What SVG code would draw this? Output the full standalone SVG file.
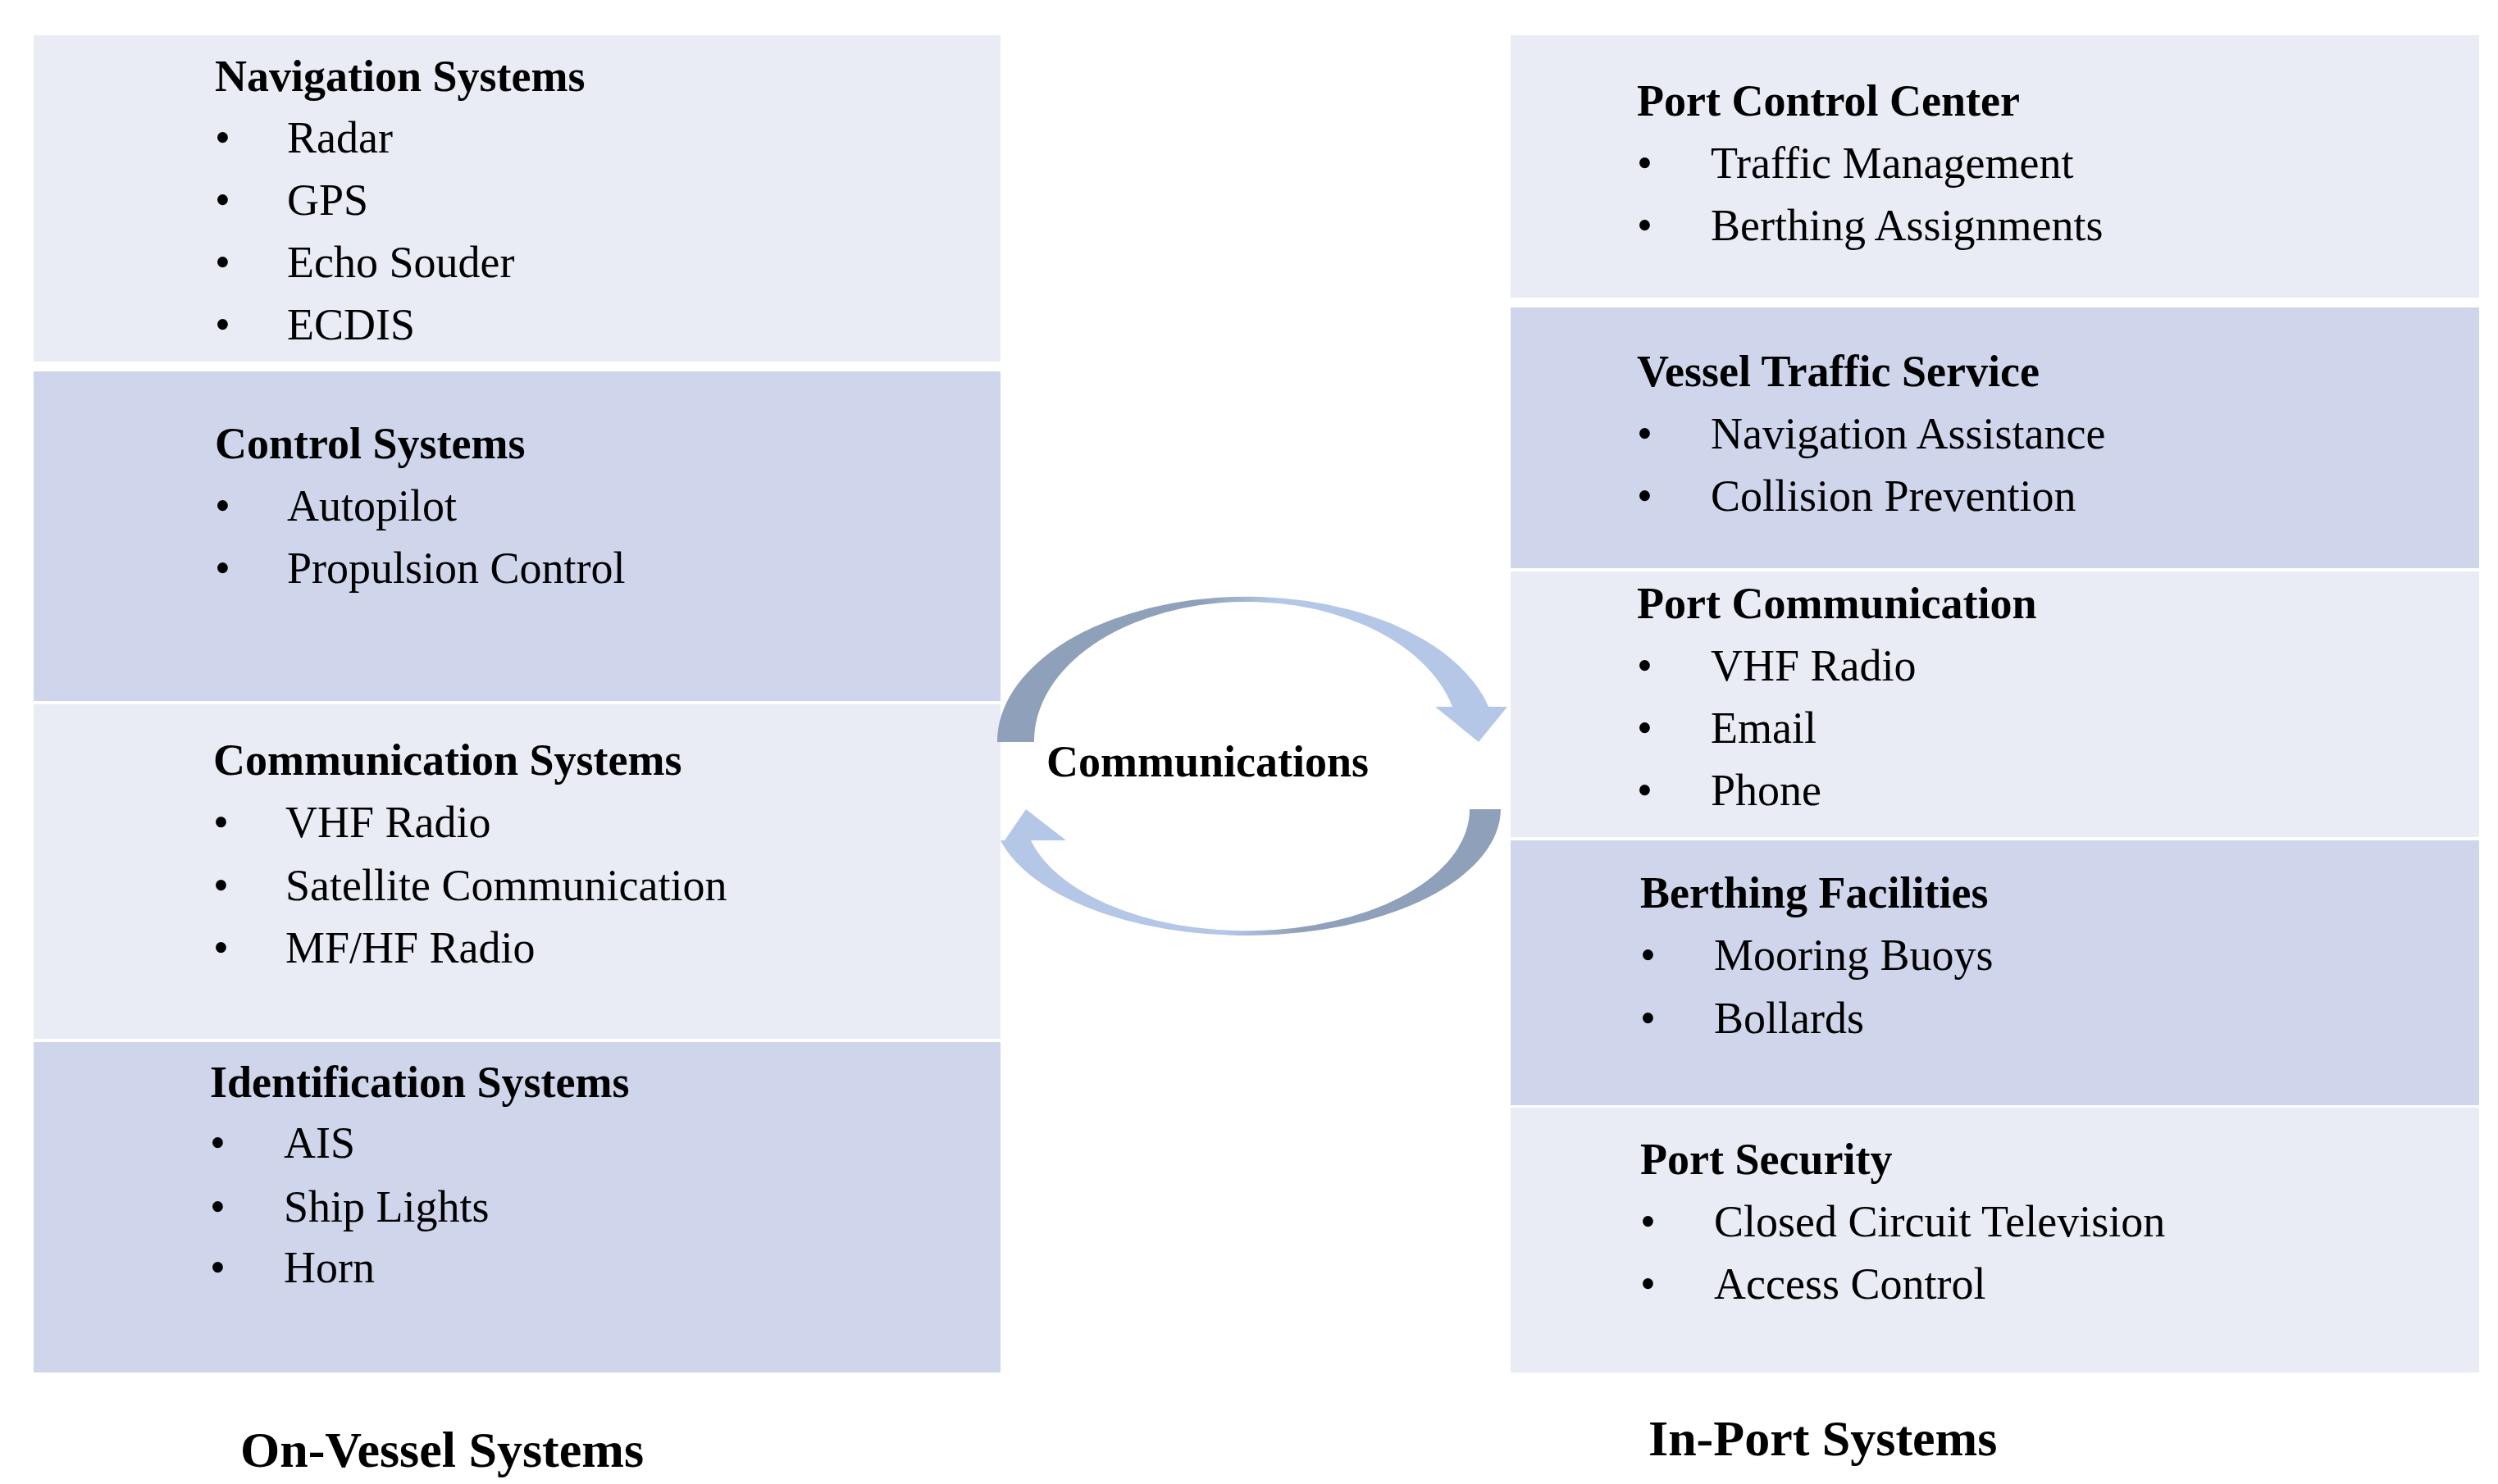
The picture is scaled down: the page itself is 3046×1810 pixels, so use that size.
<svg xmlns="http://www.w3.org/2000/svg" width="3046" height="1810" viewBox="0 0 3046 1810">
<style>
.l{fill:#E9EBF5}.d{fill:#CFD5EA}
text{font-family:"Liberation Serif","Times New Roman",serif;font-size:54px;fill:#000}
.h{font-weight:bold}.f{font-weight:bold;font-size:62px}
</style>
<defs>
<linearGradient id="gt" x1="1216" y1="0" x2="1838" y2="0" gradientUnits="userSpaceOnUse"><stop offset="0" stop-color="#8FA0BA"/><stop offset="0.4" stop-color="#8FA0BA"/><stop offset="0.55" stop-color="#B4C7E7"/><stop offset="1" stop-color="#B4C7E7"/></linearGradient>
<linearGradient id="gb" x1="1220" y1="0" x2="1830" y2="0" gradientUnits="userSpaceOnUse"><stop offset="0" stop-color="#B4C7E7"/><stop offset="0.45" stop-color="#B4C7E7"/><stop offset="0.6" stop-color="#8FA0BA"/><stop offset="1" stop-color="#8FA0BA"/></linearGradient>
</defs>
<rect width="3046" height="1810" fill="#fff"/>
<g id="nav"><rect class="l" x="41" y="43" width="1179" height="398"/>
<text class="h" x="262" y="111">Navigation Systems</text>
<text x="262" y="186">•</text><text x="350" y="186">Radar</text>
<text x="262" y="262">•</text><text x="350" y="262">GPS</text>
<text x="262" y="338">•</text><text x="350" y="338">Echo Souder</text>
<text x="262" y="414">•</text><text x="350" y="414">ECDIS</text></g>
<g id="ctrl"><rect class="d" x="41" y="453" width="1179" height="402"/>
<text class="h" x="262" y="559">Control Systems</text>
<text x="262" y="635">•</text><text x="350" y="635">Autopilot</text>
<text x="262" y="711">•</text><text x="350" y="711">Propulsion Control</text></g>
<g id="comm"><rect class="l" x="41" y="859" width="1179" height="408"/>
<text class="h" x="260" y="945">Communication Systems</text>
<text x="260" y="1021">•</text><text x="348" y="1021">VHF Radio</text>
<text x="260" y="1098">•</text><text x="348" y="1098">Satellite Communication</text>
<text x="260" y="1174">•</text><text x="348" y="1174">MF/HF Radio</text></g>
<g id="ident"><rect class="d" x="41" y="1271" width="1179" height="403"/>
<text class="h" x="256" y="1338">Identification Systems</text>
<text x="256" y="1412">•</text><text x="346" y="1412">AIS</text>
<text x="256" y="1490">•</text><text x="346" y="1490">Ship Lights</text>
<text x="256" y="1564">•</text><text x="346" y="1564">Horn</text></g>
<g id="pcc"><rect class="l" x="1842" y="43" width="1181" height="320"/>
<text class="h" x="1996" y="141">Port Control Center</text>
<text x="1996" y="217">•</text><text x="2086" y="217">Traffic Management</text>
<text x="1996" y="293">•</text><text x="2086" y="293">Berthing Assignments</text></g>
<g id="vts"><rect class="d" x="1842" y="375" width="1181" height="318"/>
<text class="h" x="1996" y="471">Vessel Traffic Service</text>
<text x="1996" y="547">•</text><text x="2086" y="547">Navigation Assistance</text>
<text x="1996" y="623">•</text><text x="2086" y="623">Collision Prevention</text></g>
<g id="pcomm"><rect class="l" x="1842" y="697" width="1181" height="324"/>
<text class="h" x="1996" y="754">Port Communication</text>
<text x="1996" y="830">•</text><text x="2086" y="830">VHF Radio</text>
<text x="1996" y="906">•</text><text x="2086" y="906">Email</text>
<text x="1996" y="982">•</text><text x="2086" y="982">Phone</text></g>
<g id="berth"><rect class="d" x="1842" y="1025" width="1181" height="323"/>
<text class="h" x="2000" y="1107">Berthing Facilities</text>
<text x="2000" y="1183">•</text><text x="2090" y="1183">Mooring Buoys</text>
<text x="2000" y="1260">•</text><text x="2090" y="1260">Bollards</text></g>
<g id="sec"><rect class="l" x="1842" y="1351" width="1181" height="323"/>
<text class="h" x="2000" y="1432">Port Security</text>
<text x="2000" y="1508">•</text><text x="2090" y="1508">Closed Circuit Television</text>
<text x="2000" y="1584">•</text><text x="2090" y="1584">Access Control</text></g>
<g id="connectors">
<path fill="url(#gt)" d="M1216,905 A304,177 0 0 1 1815,862 L1838,862 L1803,905 L1750,862 L1771,862 A259,170 0 0 0 1261,905 Z"/>
<path fill="url(#gb)" d="M1830,987 A310,155 0 0 1 1220,1025 L1225,1025 L1251,987 L1300,1025 L1257,1025 A272,148 0 0 0 1792,987 Z"/>
</g>
<g id="center"><text class="h" x="1276" y="947">Communications</text></g>
<g id="labels">
<text class="f" x="293" y="1789">On-Vessel Systems</text>
<text class="f" x="2010" y="1775">In-Port Systems</text></g>
</svg>
